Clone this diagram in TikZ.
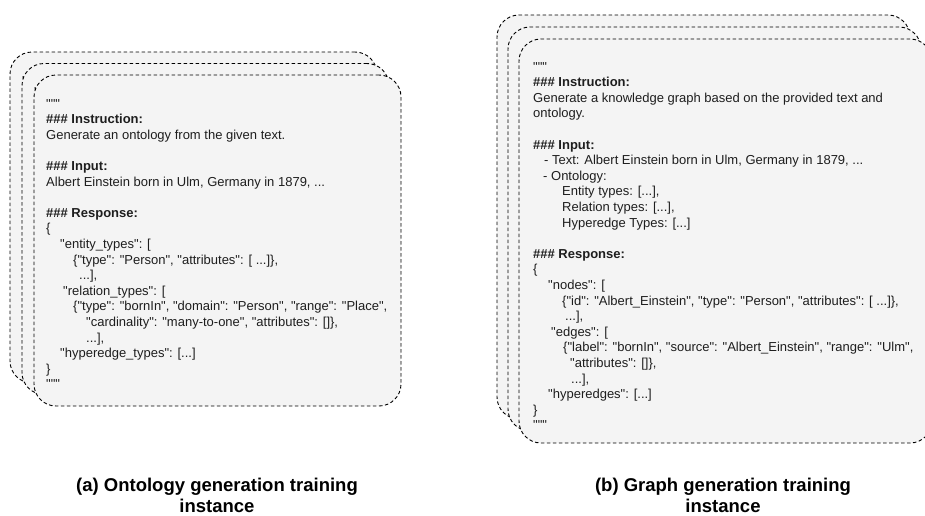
\documentclass[tikz,border=0pt]{standalone}
\usepackage{fontspec}
% straight ASCII quotes are wanted in the JSON samples
\setmainfont{Liberation Sans}[Ligatures=TeXOff]
\definecolor{cardfill}{HTML}{F4F4F4}
\definecolor{inktext}{HTML}{1E1E1E}

\newcommand\ontologybody{%
"""\\
\textbf{\#\#\# Instruction:}\\
Generate an ontology from the given text.\\[15.6pt]
\textbf{\#\#\# Input:}\\
Albert Einstein born in Ulm, Germany in 1879, ...\\[15.6pt]
\textbf{\#\#\# Response:}\\
\{\\
\hspace*{14pt}"entity\_types": [\\
\hspace*{27pt}\{"type": "Person", "attributes": [ ...]\},\\
\hspace*{33pt}...],\\
\hspace*{17pt}"relation\_types": [\\
\hspace*{27pt}\{"type": "bornIn", "domain": "Person", "range": "Place",\\
\hspace*{40pt}"cardinality": "many-to-one", "attributes": []\},\\
\hspace*{40pt}...],\\
\hspace*{14pt}"hyperedge\_types": [...]\\
\}\\
"""}

\newcommand\graphbody{%
"""\\
\textbf{\#\#\# Instruction:}\\
Generate a knowledge graph based on the provided text and\\
ontology.\\[15.6pt]
\textbf{\#\#\# Input:}\\
\hspace*{11pt}- Text: Albert Einstein born in Ulm, Germany in 1879, ...\\
\hspace*{10pt}- Ontology:\\
\hspace*{29pt}Entity types: [...],\\
\hspace*{29pt}Relation types: [...],\\
\hspace*{29pt}Hyperedge Types: [...]\\[15.6pt]
\textbf{\#\#\# Response:}\\
\{\\
\hspace*{15pt}"nodes": [\\
\hspace*{29pt}\{"id": "Albert\_Einstein", "type": "Person", "attributes": [ ...]\},\\
\hspace*{32pt}...],\\
\hspace*{18pt}"edges": [\\
\hspace*{30pt}\{"label": "bornIn", "source": "Albert\_Einstein", "range": "Ulm",\\
\hspace*{37pt}"attributes": []\},\\
\hspace*{38pt}...],\\
\hspace*{15pt}"hyperedges": [...]\\
\}\\
"""}

\tikzset{
  card/.style={draw=black, fill=cardfill, line width=0.9pt,
    dash pattern=on 3.5pt off 2.5pt, rounded corners=22pt,
    rectangle, inner sep=0pt, outer sep=0pt, anchor=north west},
  cardtext/.style={text=inktext, align=left, inner sep=0pt, anchor=north west,
    font=\fontsize{13}{15.6}\selectfont},
  caption/.style={align=center, inner sep=0pt, text=black,
    font=\bfseries\fontsize{18.5}{20.5}\selectfont}
}

\begin{document}
\begin{tikzpicture}[x=1pt, y=-1pt]
\useasboundingbox (0,0) rectangle (925,515);

% stacked ontology-generation cards, back to front
\foreach \k/\cx/\cy in {2/10/52, 1/22/63.5, 0/34/75} {
  \node[card, minimum width=367pt, minimum height=331pt] (ontoCard\k) at (\cx,\cy) {};
  \node[cardtext, xshift=12pt, yshift=-24pt] (ontoText\k) at (ontoCard\k.north west) {\ontologybody};
}

% stacked graph-generation cards, back to front
\foreach \k/\cx/\cy in {2/497/15, 1/508/27, 0/519/39} {
  \node[card, minimum width=413pt, minimum height=404pt] (graphCard\k) at (\cx,\cy) {};
  \node[cardtext, xshift=14pt, yshift=-23pt] (graphText\k) at (graphCard\k.north west) {\graphbody};
}

% captions
\node[caption] (capA) at (217,495.5) {(a) Ontology generation training\\instance};
\node[caption] (capB) at (723,495.5) {(b) Graph generation training\\instance};
\end{tikzpicture}
\end{document}
